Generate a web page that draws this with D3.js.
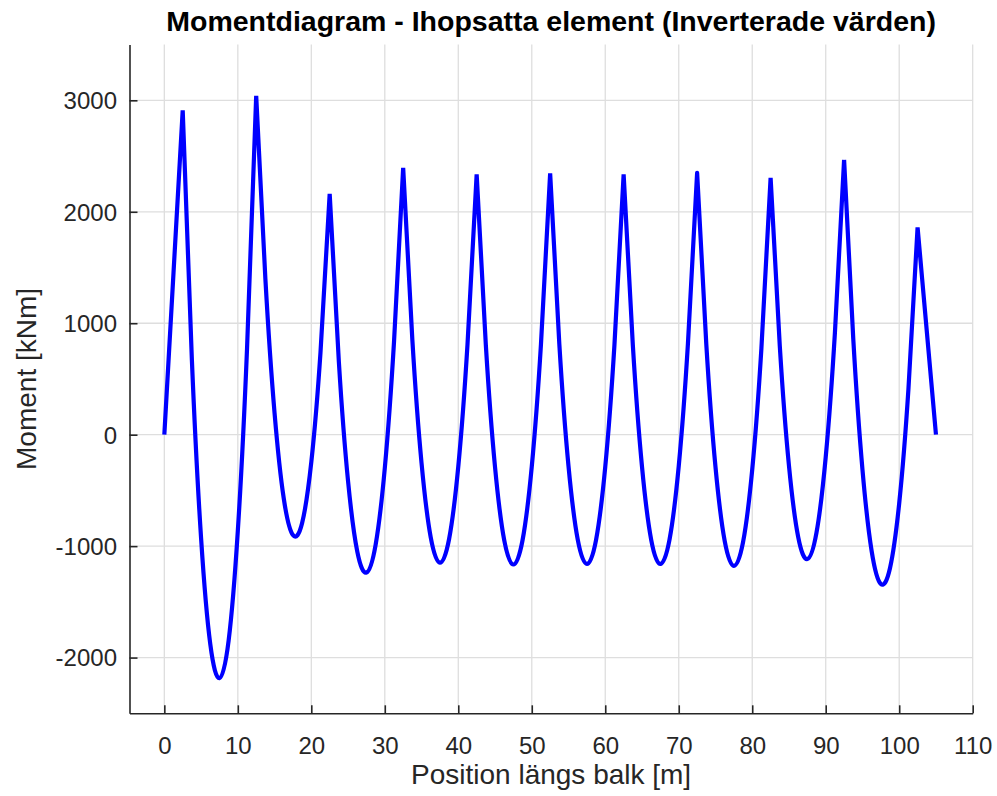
<!DOCTYPE html>
<html>
<head>
<meta charset="utf-8">
<script src="https://cdn.jsdelivr.net/npm/d3@7"></script>
<style>
  html, body { margin: 0; padding: 0; background: #ffffff; }
  svg { display: block; font-family: "Liberation Sans", Arial, Helvetica, sans-serif; }
</style>
</head>
<body>
<svg id="chart" width="997" height="796"></svg>
<script>
// ---- Data ----
const positions = [
  0, 1.25, 2.5, 3.75, 5, 6.25, 7.5, 8.75, 10, 11.25,
  12.5, 13.75, 15, 16.25, 17.5, 18.75, 20, 21.25,
  22.5, 23.75, 25, 26.25, 27.5, 28.75, 30, 31.25,
  32.5, 33.75, 35, 36.25, 37.5, 38.75, 40, 41.25,
  42.5, 43.75, 45, 46.25, 47.5, 48.75, 50, 51.25,
  52.5, 53.75, 55, 56.25, 57.5, 58.75, 60, 61.25,
  62.5, 63.75, 65, 66.25, 67.5, 68.75, 70, 71.25,
  72.5, 73.75, 75, 76.25, 77.5, 78.75, 80, 81.25,
  82.5, 83.75, 85, 86.25, 87.5, 88.75, 90, 91.25,
  92.5, 93.75, 95, 96.25, 97.5, 98.75, 100, 101.25,
  102.5, 103.75, 105
];
const moments = [
  0, 1455, 2910, 669, -928, -1879, -2185, -1846, -863, 766,
  3040, 1398, 194, -572, -901, -792, -246, 738,
  2160, 652, -417, -1047, -1237, -988, -300, 828,
  2395, 851, -255, -921, -1148, -936, -285, 806,
  2335, 803, -291, -947, -1165, -945, -286, 810,
  2345, 813, -283, -940, -1160, -943, -288, 805,
  2335, 805, -288, -943, -1160, -939, -281, 816,
  2350, 811, -290, -953, -1178, -965, -313, 777,
  2305, 794, -280, -917, -1116, -877, -200, 914,
  2465, 857, -313, -1045, -1340, -1196, -615, 404,
  1860, 930, 0
];
// support positions (kinks of the moment curve)
const supports = [2.5, 12.5, 22.5, 32.5, 42.5, 52.5, 62.5, 72.5, 82.5, 92.5, 102.5];
const xTicks = [0, 10, 20, 30, 40, 50, 60, 70, 80, 90, 100, 110];
const yTicks = [-2000, -1000, 0, 1000, 2000, 3000];
const titleText = "Momentdiagram - Ihopsatta element (Inverterade värden)";
const xLabelText = "Position längs balk [m]";
const yLabelText = "Moment [kNm]";

// ---- Layout ----
const svg = d3.select("#chart");
const plot = { left: 129.5, right: 972.7, top: 44.6, bottom: 713.3 };

const x = d3.scaleLinear().domain([-4.74, 110]).range([plot.left, plot.right]);
const y = d3.scaleLinear().domain([-2500, 3500]).range([plot.bottom, plot.top]);

const axisColor = "#262626";
const gridColor = "#dedede";

// Grid
const grid = svg.append("g");
grid.selectAll("line.gx").data(xTicks).enter().append("line")
  .attr("x1", d => x(d)).attr("x2", d => x(d))
  .attr("y1", plot.top).attr("y2", plot.bottom)
  .attr("stroke", gridColor).attr("stroke-width", 1.3);
grid.selectAll("line.gy").data(yTicks).enter().append("line")
  .attr("x1", plot.left).attr("x2", plot.right)
  .attr("y1", d => y(d)).attr("y2", d => y(d))
  .attr("stroke", gridColor).attr("stroke-width", 1.3);

// Curve: natural spline within each span, sharp kinks at supports
const data = positions.map((p, i) => ({ x: p, m: moments[i] }));
const breaks = [positions[0], ...supports, positions[positions.length - 1]];
const segments = [];
for (let i = 0; i < breaks.length - 1; i++) {
  segments.push(data.filter(d => d.x >= breaks[i] - 1e-9 && d.x <= breaks[i + 1] + 1e-9));
}
const line = d3.line().x(d => x(d.x)).y(d => y(d.m)).curve(d3.curveNatural);
let pathD = "";
segments.forEach((seg, i) => {
  let s = line(seg);
  if (i > 0) s = s.replace(/^M[^A-Za-z]*/, "");
  pathD += s;
});
svg.append("path")
  .attr("d", pathD)
  .attr("fill", "none")
  .attr("stroke", "#0000ff")
  .attr("stroke-width", 4.2)
  .attr("stroke-linejoin", "miter");

// Axes (ticks pointing inward), plain hyphen for negatives
const fmt = d => String(d);
const xAxis = d3.axisBottom(x).tickValues(xTicks).tickFormat(fmt)
  .tickSizeInner(-8).tickSizeOuter(0).tickPadding(23.4);
const yAxis = d3.axisLeft(y).tickValues(yTicks).tickFormat(fmt)
  .tickSizeInner(-8).tickSizeOuter(0).tickPadding(12.5);

const gx = svg.append("g").attr("transform", `translate(0,${plot.bottom})`).call(xAxis);
const gy = svg.append("g").attr("transform", `translate(${plot.left},0)`).call(yAxis);
[gx, gy].forEach(g => {
  g.select(".domain").attr("stroke", axisColor).attr("stroke-width", 1.6);
  g.selectAll(".tick line").attr("stroke", axisColor).attr("stroke-width", 1.6);
  g.selectAll(".tick text")
    .attr("fill", axisColor)
    .style("font-size", "24px")
    .style("font-family", '"Liberation Sans", Arial, Helvetica, sans-serif');
});
gy.selectAll(".tick text").attr("dy", "0.35em");

// Title and labels
svg.append("text")
  .attr("x", (plot.left + plot.right) / 2).attr("y", 31)
  .attr("text-anchor", "middle")
  .attr("fill", "#000000")
  .style("font-size", "28.5px").style("font-weight", "bold")
  .text(titleText);

svg.append("text")
  .attr("x", (plot.left + plot.right) / 2).attr("y", 784.3)
  .attr("text-anchor", "middle")
  .attr("fill", axisColor)
  .style("font-size", "28px")
  .text(xLabelText);

svg.append("text")
  .attr("transform", `translate(35.5,${(plot.top + plot.bottom) / 2}) rotate(-90)`)
  .attr("text-anchor", "middle")
  .attr("fill", axisColor)
  .style("font-size", "28px")
  .text(yLabelText);
</script>
</body>
</html>
